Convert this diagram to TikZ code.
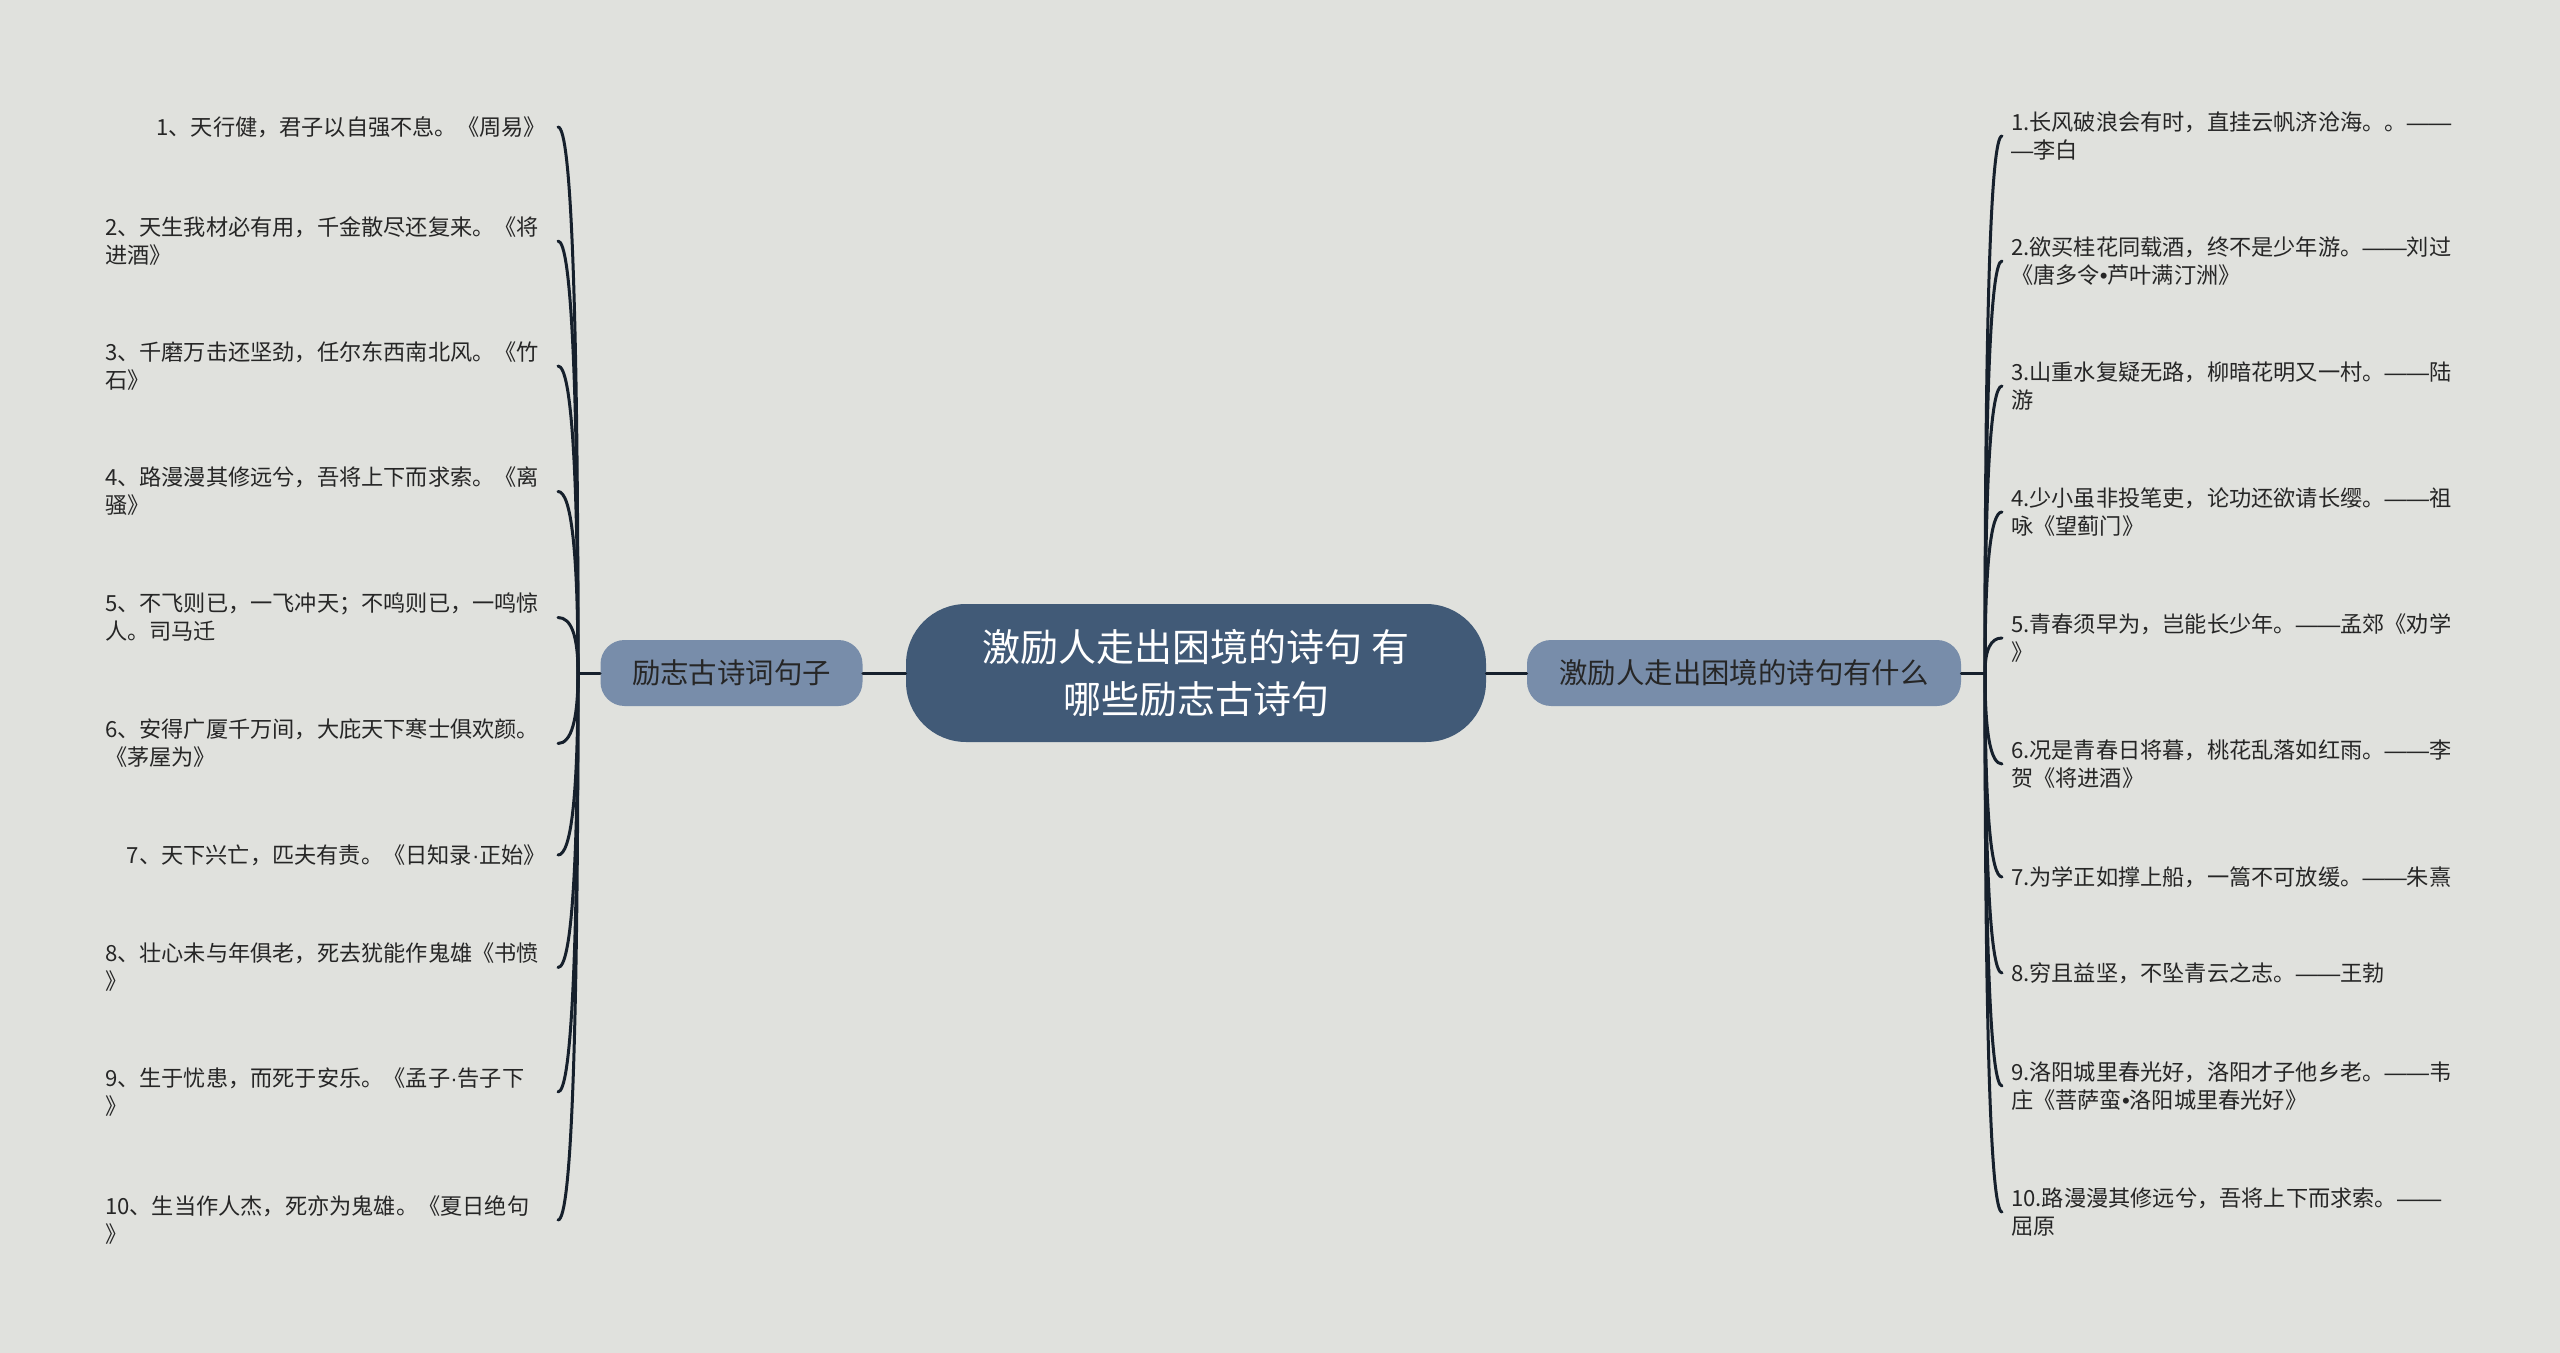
\documentclass[tikz,border=0pt]{standalone}
\usepackage{fontspec}
\setmainfont{Noto Sans CJK SC}
\newfontfamily\latinfont{Liberation Sans}
\newcommand\dd{{\latinfont \char"2014\char"2014}}
\newcommand\sd{{\latinfont \char"2014}}
\newcommand\md{{\latinfont \char"00B7}}
\newcommand\bu{{\latinfont \char"2022}}
\usetikzlibrary{calc}
\definecolor{bg}{HTML}{E0E1DD}
\definecolor{rootfill}{HTML}{415A77}
\definecolor{branchfill}{HTML}{788DAA}
\definecolor{linec}{HTML}{16202C}
\definecolor{textc}{HTML}{262626}
\begin{document}
\begin{tikzpicture}[x=0.5pt,y=-0.5pt,
  rootbox/.style={fill=rootfill, rounded corners=30pt, minimum width=290pt, minimum height=69pt, text=white, font=\fontsize{19pt}{26pt}\selectfont, align=center, inner sep=0pt},
  branchbox/.style={fill=branchfill, rounded corners=12pt, minimum height=33pt, text=textc, font=\fontsize{14.2pt}{17pt}\selectfont, inner sep=0pt},
  leafL/.style={anchor=east, align=left, text width=219pt, inner sep=0pt, outer xsep=7.5pt, text=textc, font=\fontsize{11.1pt}{14pt}\selectfont},
  leafLone/.style={leafL, align=right, outer xsep=6pt},
  leafR/.style={anchor=west, align=left, inner sep=0pt, outer xsep=4.5pt, text=textc, font=\fontsize{11.1pt}{14pt}\selectfont},
  conn/.style={draw=linec, line width=1.5pt, line cap=round}]
\fill[bg] (0,0) rectangle (2560,1353);
\useasboundingbox (0,0) rectangle (2560,1353);

\node[rootbox] (root) at (1196,673) {激励人走出困境的诗句 有\\哪些励志古诗句};
\node[branchbox, minimum width=131pt] (lb) at (731.5,673) {励志古诗词句子};
\node[branchbox, minimum width=217pt] (rb) at (1744,673) {激励人走出困境的诗句有什么};
\coordinate (lj) at (578,673);
\coordinate (rj) at (1985,673);

\node[leafLone] (L1) at (558,127) {1、天行健，君子以自强不息。《周易》};
\node[leafL] (L2) at (558,241) {2、天生我材必有用，千金散尽还复来。《将\\进酒》};
\node[leafL] (L3) at (558,366) {3、千磨万击还坚劲，任尔东西南北风。《竹\\石》};
\node[leafL] (L4) at (558,491.5) {4、路漫漫其修远兮，吾将上下而求索。《离\\骚》};
\node[leafL] (L5) at (558,617.5) {5、不飞则已，一飞冲天；不鸣则已，一鸣惊\\人。司马迁};
\node[leafL] (L6) at (558,743.5) {6、安得广厦千万间，大庇天下寒士俱欢颜。\\《茅屋为》};
\node[leafLone] (L7) at (558,855) {7、天下兴亡，匹夫有责。《日知录\md 正始》};
\node[leafL] (L8) at (558,967.5) {8、壮心未与年俱老，死去犹能作鬼雄《书愤\\》};
\node[leafL] (L9) at (558,1092) {9、生于忧患，而死于安乐。《孟子\md 告子下\\》};
\node[leafL] (L10) at (558,1220) {10、生当作人杰，死亦为鬼雄。《夏日绝句\\》};

\node[leafR] (R1) at (2002,136) {1.长风破浪会有时，直挂云帆济沧海。。\dd\\\sd 李白};
\node[leafR] (R2) at (2002,261) {2.欲买桂花同载酒，终不是少年游。\dd 刘过\\《唐多令\bu 芦叶满汀洲》};
\node[leafR] (R3) at (2002,386) {3.山重水复疑无路，柳暗花明又一村。\dd 陆\\游};
\node[leafR] (R4) at (2002,512) {4.少小虽非投笔吏，论功还欲请长缨。\dd 祖\\咏《望蓟门》};
\node[leafR] (R5) at (2002,638) {5.青春须早为，岂能长少年。\dd 孟郊《劝学\\》};
\node[leafR] (R6) at (2002,764) {6.况是青春日将暮，桃花乱落如红雨。\dd 李\\贺《将进酒》};
\node[leafR] (R7) at (2002,877) {7.为学正如撑上船，一篙不可放缓。\dd 朱熹};
\node[leafR] (R8) at (2002,973) {8.穷且益坚，不坠青云之志。\dd 王勃};
\node[leafR] (R9) at (2002,1086) {9.洛阳城里春光好，洛阳才子他乡老。\dd 韦\\庄《菩萨蛮\bu 洛阳城里春光好》};
\node[leafR] (R10) at (2002,1212) {10.路漫漫其修远兮，吾将上下而求索。\dd\\屈原};

\draw[conn] (root.west) -- (lb.east);
\draw[conn] (root.east) -- (rb.west);
\draw[conn] (lb.west) -- (lj);
\draw[conn] (rb.east) -- (rj);
\foreach \i in {1,...,10}{
  \draw[conn] (lj) .. controls ($(lj)!2/3!(lj|-L\i.east)$) and ($(L\i.east)!2/3!(lj|-L\i.east)$) .. (L\i.east);
  \draw[conn] (rj) .. controls ($(rj)!2/3!(rj|-R\i.west)$) and ($(R\i.west)!2/3!(rj|-R\i.west)$) .. (R\i.west);
}
\end{tikzpicture}
\end{document}
